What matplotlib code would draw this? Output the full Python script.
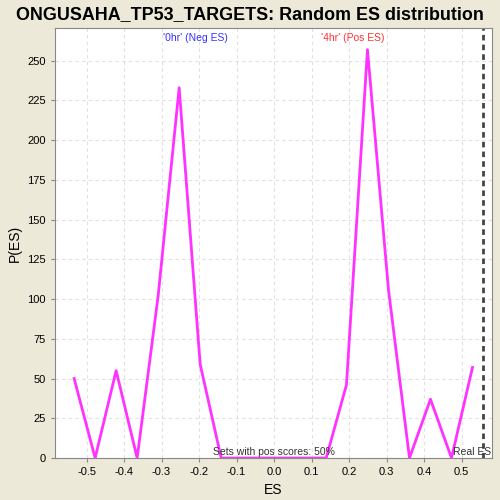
import matplotlib
matplotlib.use("Agg")
import matplotlib.pyplot as plt

es = [-0.533, -0.477, -0.421, -0.365, -0.309, -0.253, -0.197, -0.141, -0.085,
      -0.029, 0.027, 0.083, 0.139, 0.193, 0.249, 0.305, 0.361, 0.417, 0.473, 0.529]
pes = [50, 0, 55, 0, 102, 233, 59, 0, 0, 0, 0, 0, 0, 46, 257, 106, 0, 37, 0, 57]
real_es = 0.556
xticks = [-0.5, -0.4, -0.3, -0.2, -0.1, 0.0, 0.1, 0.2, 0.3, 0.4, 0.5]
yticks = [0, 25, 50, 75, 100, 125, 150, 175, 200, 225, 250]

plt.rcParams["font.family"] = ["Liberation Sans", "DejaVu Sans"]
bg = "#ECE9D8"
fig = plt.figure(figsize=(5, 5), dpi=100, facecolor=bg)
ax = fig.add_axes([0.11, 0.084, 0.874, 0.86])
ax.set_facecolor("white")
ax.plot(es, pes, color="#FF33FF", lw=2)
ax.axvline(real_es, color="#444444", lw=2, ls=(0, (2, 1.5)))
ax.set_xlim(-0.584, 0.581)
ax.set_ylim(0, 270.6)
ax.set_xticks(xticks)
ax.set_xticklabels([f"{t:.1f}" for t in xticks])
ax.set_yticks(yticks)
ax.tick_params(labelsize=8, length=3, color="#888888")
ax.grid(True, ls=(0, (3, 3)), color="#E0E0E0", lw=0.8)
for s in ax.spines.values():
    s.set_color("#888888")
ax.set_xlabel("ES", fontsize=10)
ax.set_ylabel("P(ES)", fontsize=10)
fig.suptitle("ONGUSAHA_TP53_TARGETS: Random ES distribution", fontsize=12.9,
             fontweight="bold", y=0.988)
ax.text(-0.21, 264, "'0hr' (Neg ES)", color="#3333FF", fontsize=7.5, ha="center", va="center")
ax.text(0.21, 264, "'4hr' (Pos ES)", color="#FF3333", fontsize=7.5, ha="center", va="center")
ax.text(0.0, 0.5, "Sets with pos scores: 50%", fontsize=7.5, ha="center", va="bottom", color="#333333")
ax.text(0.578, 0.5, "Real ES", fontsize=7.5, ha="right", va="bottom", color="#333333")
fig.savefig("out.png", dpi=100, facecolor=bg)
